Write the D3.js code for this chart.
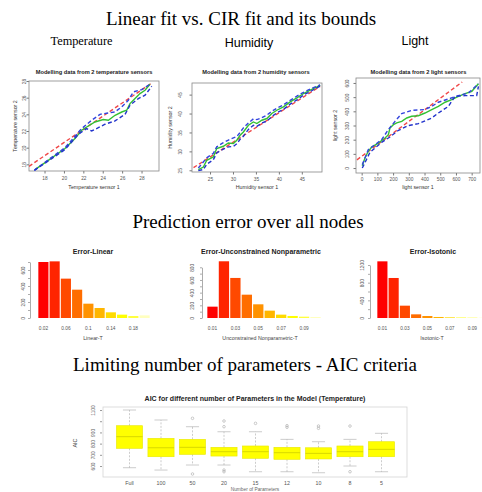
<!DOCTYPE html>
<html><head><meta charset="utf-8">
<script src="https://cdn.jsdelivr.net/npm/d3@7/dist/d3.min.js"></script>
<style>body{margin:0;background:#fff}svg{display:block}</style>
</head><body>
<script>
// ================= DATA =================
const sectionTitles = ["Linear fit vs. CIR fit and its bounds", "Prediction error over all nodes", "Limiting number of parameters - AIC criteria"];
const sensorNames = ["Temperature", "Humidity", "Light"];
const fitTitles = ["Modelling data from 2 temperature sensors", "Modelling data from 2 humidity sensors", "Modelling data from 2 light sensors"];
const fitXLabels = ["Temperature sensor 1", "Humidity sensor 1", "light sensor 1"];
const fitYLabels = ["Temperature sensor 2", "Humidity sensor 2", "light sensor 2"];

// Temperature
const tempTicks = [18, 20, 22, 24, 26, 28];
const tempLinX = [16.4, 29.05];
const tempLinY = [17.76, 27.76];
const tempCirX = [17.02, 18.39, 20.11, 21.14, 21.83, 22.35, 23.20, 24.06, 24.58, 25.27, 25.96, 26.47, 26.81, 27.33, 27.84, 28.36, 28.87];
const tempCirY = [17.37, 18.48, 19.89, 21.09, 22.09, 22.48, 23.08, 23.37, 23.29, 23.89, 24.28, 24.49, 25.29, 25.89, 26.49, 26.89, 27.61];
const tempUpX = [16.95, 18.39, 20.11, 21.83, 22.86, 23.72, 24.58, 25.27, 25.95, 26.64, 27.16, 28.02, 28.87];
const tempUpY = [17.28, 18.56, 20.00, 22.29, 23.29, 24.00, 24.17, 24.29, 24.89, 25.69, 26.69, 26.97, 27.61];
const tempLoX = [16.95, 18.39, 20.11, 21.49, 21.83, 22.35, 22.86, 23.55, 24.24, 25.27, 26.30, 26.81, 27.67, 28.36, 29.05];
const tempLoY = [17.28, 18.40, 19.77, 21.61, 21.89, 22.29, 22.00, 22.40, 22.81, 23.21, 24.00, 25.09, 25.89, 26.29, 27.37];

// Humidity
const humTicks = [25, 30, 35, 40, 45];
const humLinX = [21.4, 49.0];
const humLinY = [25.7, 47.2];
const humCirX = [22.45, 23.54, 24.28, 25.0, 25.72, 26.46, 27.9, 29.0, 30.09, 30.83, 31.55, 32.27, 33.36, 34.45, 35.2, 36.29, 37.38, 38.47, 39.56, 41.0, 42.47, 43.93, 45.38, 46.84, 48.3, 49.0];
const humCirY = [25.18, 25.87, 27.65, 28.09, 28.52, 30.74, 31.35, 32.22, 32.06, 32.94, 34.26, 35.13, 36.9, 37.78, 37.35, 38.23, 38.68, 40.0, 40.87, 41.75, 43.07, 44.13, 45.29, 46.16, 47.04, 47.49];
const humUpX = [22.45, 23.54, 24.28, 25.72, 26.46, 27.9, 29.0, 30.83, 31.55, 32.27, 33.36, 34.45, 35.2, 36.29, 37.38, 38.47, 39.56, 41.0, 42.47, 43.93, 45.38, 46.84, 49.0];
const humUpY = [25.6, 27.2, 28.3, 29.5, 31.2, 32.3, 33.0, 33.9, 35.0, 36.2, 37.5, 38.6, 38.4, 38.9, 39.6, 40.6, 41.4, 42.3, 43.5, 44.6, 45.6, 46.5, 47.6];
const humLoX = [22.45, 23.54, 24.28, 25.72, 26.46, 27.9, 29.0, 30.09, 30.83, 31.55, 32.27, 33.36, 34.45, 35.2, 36.29, 37.38, 38.47, 39.56, 41.0, 42.47, 43.93, 45.38, 46.84, 49.0];
const humLoY = [24.9, 25.2, 26.6, 27.8, 29.6, 30.6, 31.2, 31.3, 32.0, 33.2, 34.0, 35.8, 36.9, 36.6, 37.5, 38.0, 39.2, 40.2, 41.1, 42.5, 43.6, 44.9, 45.8, 47.3];

// Light
const lightTicksX = [0, 100, 200, 300, 400, 500, 600, 700];
const lightTicksY = [0, 100, 200, 300, 400, 500, 600];
const lightLinX = [-30, 640];
const lightLinY = [58, 607];
const lightCirX = [4, 21, 42, 64, 106, 149, 170, 180, 202, 223, 255, 287, 318, 361, 403, 446, 488, 531, 573, 616, 658, 701, 743];
const lightCirY = [16, 71, 118, 148, 176, 212, 235, 282, 306, 318, 329, 353, 365, 369, 388, 412, 435, 464, 482, 506, 525, 541, 595];
const lightUpX = [4, 42, 127, 170, 212, 255, 318, 403, 446, 488, 552, 616, 679, 743];
const lightUpY = [24, 129, 200, 271, 329, 384, 407, 412, 435, 464, 487, 511, 529, 595];
const lightLoX = [4, 53, 127, 180, 234, 297, 361, 446, 488, 552, 594, 658, 732, 743];
const lightLoY = [0, 111, 181, 219, 266, 299, 313, 353, 388, 435, 506, 511, 511, 576];

// Prediction error histograms
const heatColors = ["#FF0000", "#FF2400", "#FF4900", "#FF6D00", "#FF9200", "#FFB600", "#FFDB00", "#FFFF00", "#FFFF40", "#FFFFBF"];
const histTitles = ["Error-Linear", "Error-Unconstrained Nonparametric", "Error-Isotonic"];
const histXLabels = ["Linear-T", "Unconstrained Nonparametric-T", "Isotonic-T"];
const linearBins = ["0.02", "0.04", "0.06", "0.08", "0.1", "0.12", "0.14", "0.16", "0.18", "0.2"];
const linearCounts = [700, 708, 492, 354, 179, 125, 71, 42, 25, 33];
const unconBins = ["0.01", "0.02", "0.03", "0.04", "0.05", "0.06", "0.07", "0.08", "0.09", "0.1"];
const unconCounts = [179, 895, 632, 368, 216, 116, 53, 32, 21, 16];
const isoBins = ["0.01", "0.02", "0.03", "0.04", "0.05", "0.06", "0.07", "0.08", "0.09", "0.1"];
const isoCounts = [1283, 906, 279, 83, 45, 23, 15, 10, 8, 6];

// AIC box plot
const aicTitle = "AIC for different number of Parameters in the Model (Temperature)";
const aicGroups = ["Full", "100", "50", "20", "15", "12", "10", "8", "5"];
const aicLow = [585, 564, 609, 609, 549, 549, 540, 600, 549];
const aicQ1 = [758, 683, 704, 689, 669, 660, 663, 683, 683];
const aicMed = [862, 763, 767, 728, 728, 719, 713, 728, 749];
const aicQ3 = [960, 847, 838, 767, 779, 767, 763, 779, 817];
const aicHigh = [1100, 1011, 951, 906, 906, 838, 817, 838, 892];
const aicOutliers = [[], [], [1026, 529], [1002, 951, 564, 549], [981], [960, 946], [957, 937], [957, 549], []];
const aicTicks = [600, 700, 800, 900, 1000, 1100];

// ================= DRAW =================
const svg = d3.select("body").append("svg").attr("width", 482).attr("height", 492);
const SERIF = "'Liberation Serif','Times New Roman',serif";
const SANS = "'Liberation Sans',Arial,sans-serif";

function text(x, y, s, size, opts = {}) {
  const t = svg.append("text").attr("x", x).attr("y", y).text(s)
    .attr("font-family", opts.family || SANS).attr("font-size", size)
    .attr("text-anchor", opts.anchor || "middle").attr("fill", opts.fill || "#000");
  if (opts.bold) t.attr("font-weight", "bold");
  if (opts.rotate) t.attr("transform", `rotate(-90,${x},${y})`);
  return t;
}

// Section titles
text(241, 25, sectionTitles[0], 19, { family: SERIF });
text(248, 228, sectionTitles[1], 19, { family: SERIF });
text(245, 371, sectionTitles[2], 19, { family: SERIF });
text(81.5, 45, sensorNames[0], 12.3, { family: SERIF });
text(249, 47, sensorNames[1], 12.5);
text(415, 45, sensorNames[2], 12.5);

// ---- fit panels ----
const fitPanels = [
  { f: [29, 81, 159, 171], xd: [16.4, 29.8], yd: [17.2, 28.0], xt: tempTicks, yt: tempTicks, ylOff: 3.2, xlOff: 8.5, tx: 94, ylx: 17,
    lin: [tempLinX, tempLinY], cir: [tempCirX, tempCirY], up: [tempUpX, tempUpY], lo: [tempLoX, tempLoY] },
  { f: [192, 83, 322, 172], xd: [21.07, 49.4], yd: [24.55, 48.07], xt: humTicks, yt: humTicks, ylOff: 10, xlOff: 8.5, tx: 256, ylx: 172,
    lin: [humLinX, humLinY], cir: [humCirX, humCirY], up: [humUpX, humUpY], lo: [humLoX, humLoY] },
  { f: [356, 78, 480, 173], xd: [-36, 753], yd: [-35, 635], xt: lightTicksX, yt: lightTicksY, ylOff: 7.5, xlOff: 7.5, tx: 418.5, ylx: 337,
    lin: [lightLinX, lightLinY], cir: [lightCirX, lightCirY], up: [lightUpX, lightUpY], lo: [lightLoX, lightLoY] }
];

fitPanels.forEach((p, i) => {
  const [l, t, r, b] = p.f;
  const x = d3.scaleLinear().domain(p.xd).range([l, r]);
  const y = d3.scaleLinear().domain(p.yd).range([b, t]);
  const g = svg.append("g");
  const clipId = "clip" + i;
  svg.append("clipPath").attr("id", clipId).append("rect").attr("x", l).attr("y", t).attr("width", r - l).attr("height", b - t);

  const xa = g.append("g").attr("transform", `translate(0,${b})`)
    .call(d3.axisBottom(x).tickValues(p.xt).tickSize(2.5).tickPadding(1).tickSizeOuter(0));
  xa.select(".domain").remove();
  xa.selectAll("line").attr("stroke", "#777");
  xa.selectAll("text").attr("font-size", 4.8).attr("fill", "#555").attr("font-family", SANS)
    .attr("y", p.xlOff).attr("dy", 0);

  const ya = g.append("g").attr("transform", `translate(${l},0)`)
    .call(d3.axisLeft(y).tickValues(p.yt).tickSize(2.5).tickSizeOuter(0));
  ya.select(".domain").remove();
  ya.selectAll("line").attr("stroke", "#777");
  ya.selectAll("text").attr("font-size", 4.8).attr("fill", "#555").attr("font-family", SANS)
    .attr("x", 0).attr("y", -p.ylOff).attr("dy", 0).attr("text-anchor", "middle").attr("transform", "rotate(-90)");

  g.append("rect").attr("x", l).attr("y", t).attr("width", r - l).attr("height", b - t)
    .attr("fill", "none").attr("stroke", "#888").attr("stroke-width", 0.8);

  const line = d3.line().x(d => x(d[0])).y(d => y(d[1]));
  const lg = g.append("g").attr("clip-path", `url(#${clipId})`).attr("fill", "none");
  lg.append("path").attr("d", line(d3.zip(...p.lin))).attr("stroke", "#f04848").attr("stroke-width", 1.4).attr("stroke-dasharray", "4,2.5");
  lg.append("path").attr("d", line(d3.zip(...p.cir))).attr("stroke", "#33c033").attr("stroke-width", 1.4);
  lg.append("path").attr("d", line(d3.zip(...p.up))).attr("stroke", "#3344dd").attr("stroke-width", 1.4).attr("stroke-dasharray", "4,2.5");
  lg.append("path").attr("d", line(d3.zip(...p.lo))).attr("stroke", "#2233cc").attr("stroke-width", 1.4).attr("stroke-dasharray", "4,2.5");

  text(p.tx, 74, fitTitles[i], 5.7, { bold: true, fill: "#222" });
  text((l + r) / 2, 189, fitXLabels[i], 5.3, { fill: "#333" });
  text(p.ylx, (t + b) / 2, fitYLabels[i], 5.3, { fill: "#333", rotate: true });
});

// ---- histograms ----
const hists = [
  { counts: linearCounts, bins: linearBins, bx: [38, 150], yd: [0, 700], yr: [318, 262], step: 100, lab: 200, ax: 30, lo: 5.5, tx: 93, xt: 93 },
  { counts: unconCounts, bins: unconBins, bx: [207, 321], yd: [0, 800], yr: [318, 267.3], step: 100, lab: 200, ax: 202, lo: 8, tx: 261, xt: 260 },
  { counts: isoCounts, bins: isoBins, bx: [377, 489], yd: [0, 1200], yr: [318, 265], step: 200, lab: 400, ax: 370, lo: 6.5, tx: 433, xt: 432 }
];
hists.forEach((h, i) => {
  const x = d3.scaleBand().domain(h.bins).range(h.bx).paddingInner(0.1).paddingOuter(0.03);
  const y = d3.scaleLinear().domain(h.yd).range(h.yr);
  const g = svg.append("g");
  g.selectAll("rect").data(h.counts).join("rect")
    .attr("x", (d, j) => x(h.bins[j])).attr("width", x.bandwidth())
    .attr("y", d => y(d)).attr("height", d => y(0) - y(d))
    .attr("fill", (d, j) => heatColors[j]);
  const ticks = d3.range(h.yd[0], h.yd[1] + 1, h.step);
  const ya = g.append("g").attr("transform", `translate(${h.ax},0)`)
    .call(d3.axisLeft(y).tickValues(ticks).tickSize(2).tickSizeOuter(0)
      .tickFormat(v => v % h.lab === 0 ? String(v) : ""));
  ya.select(".domain").attr("stroke", "#888").attr("stroke-width", 0.7);
  ya.selectAll("line").attr("stroke", "#888").attr("stroke-width", 0.7);
  ya.selectAll("text").attr("font-size", 4.8).attr("fill", "#555").attr("font-family", SANS)
    .attr("x", 0).attr("y", -h.lo).attr("dy", 0).attr("text-anchor", "middle").attr("transform", "rotate(-90)");
  const xa = g.append("g").attr("transform", `translate(0,${y(0)})`)
    .call(d3.axisBottom(x).tickValues(h.bins.filter((b, j) => j % 2 === 0)).tickSize(0).tickPadding(9));
  xa.select(".domain").remove();
  xa.selectAll("text").attr("font-size", 4.8).attr("fill", "#555").attr("font-family", SANS);
  text(h.tx, 253.5, histTitles[i], 7, { bold: true, fill: "#222" });
  text(h.xt, 340, histXLabels[i], 5.3, { fill: "#444" });
});

// ---- AIC box plot ----
{
  const L = 103, R = 407, T = 407, B = 477;
  const x = d3.scaleBand().domain(aicGroups).range([113.75, 397.25]);
  const y = d3.scaleLinear().domain([502, 1127]).range([B, T]);
  const g = svg.append("g");
  g.append("rect").attr("x", L).attr("y", T).attr("width", R - L).attr("height", B - T)
    .attr("fill", "none").attr("stroke", "#d4d4d4").attr("stroke-width", 0.8);
  const ya = g.append("g").attr("transform", `translate(${L - 1},0)`)
    .call(d3.axisLeft(y).tickValues(aicTicks).tickSize(2).tickSizeOuter(0)
      .tickFormat(v => v === 1000 ? "" : String(v)));
  ya.select(".domain").remove();
  ya.selectAll("line").attr("stroke", "#999");
  ya.selectAll("text").attr("font-size", 4.8).attr("fill", "#666").attr("font-family", SANS)
    .attr("x", 0).attr("y", -7).attr("dy", 0).attr("text-anchor", "middle").attr("transform", "rotate(-90)");
  const xa = g.append("g").attr("transform", `translate(0,${B})`)
    .call(d3.axisBottom(x).tickSize(0).tickPadding(4.5));
  xa.select(".domain").remove();
  xa.selectAll("text").attr("font-size", 5.3).attr("fill", "#555").attr("font-family", SANS);

  const bw = x.bandwidth() * 0.83;
  aicGroups.forEach((grp, i) => {
    const cx = x(grp) + x.bandwidth() / 2;
    const bg = g.append("g");
    bg.append("line").attr("x1", cx).attr("x2", cx).attr("y1", y(aicQ3[i])).attr("y2", y(aicHigh[i]))
      .attr("stroke", "#aaa").attr("stroke-width", 0.6).attr("stroke-dasharray", "2,1.5");
    bg.append("line").attr("x1", cx).attr("x2", cx).attr("y1", y(aicQ1[i])).attr("y2", y(aicLow[i]))
      .attr("stroke", "#aaa").attr("stroke-width", 0.6).attr("stroke-dasharray", "2,1.5");
    [aicHigh[i], aicLow[i]].forEach(v => bg.append("line").attr("x1", cx - bw / 4).attr("x2", cx + bw / 4)
      .attr("y1", y(v)).attr("y2", y(v)).attr("stroke", "#aaa").attr("stroke-width", 0.6));
    bg.append("rect").attr("x", cx - bw / 2).attr("width", bw).attr("y", y(aicQ3[i])).attr("height", y(aicQ1[i]) - y(aicQ3[i]))
      .attr("fill", "#ffff00").attr("stroke", "#e8e800").attr("stroke-width", 0.6);
    bg.append("line").attr("x1", cx - bw / 2).attr("x2", cx + bw / 2).attr("y1", y(aicMed[i])).attr("y2", y(aicMed[i]))
      .attr("stroke", "#d8d800").attr("stroke-width", 1);
    aicOutliers[i].forEach(v => bg.append("circle").attr("cx", cx).attr("cy", y(v)).attr("r", 1.3)
      .attr("fill", "none").attr("stroke", "#999").attr("stroke-width", 0.5));
  });
  text(255, 401, aicTitle, 7, { bold: true, fill: "#222" });
  text(77, 443, "AIC", 5.5, { fill: "#444", rotate: true });
  text(255, 491, "Number of Parameters", 4.8, { fill: "#666" });
}
</script>
</body></html>
